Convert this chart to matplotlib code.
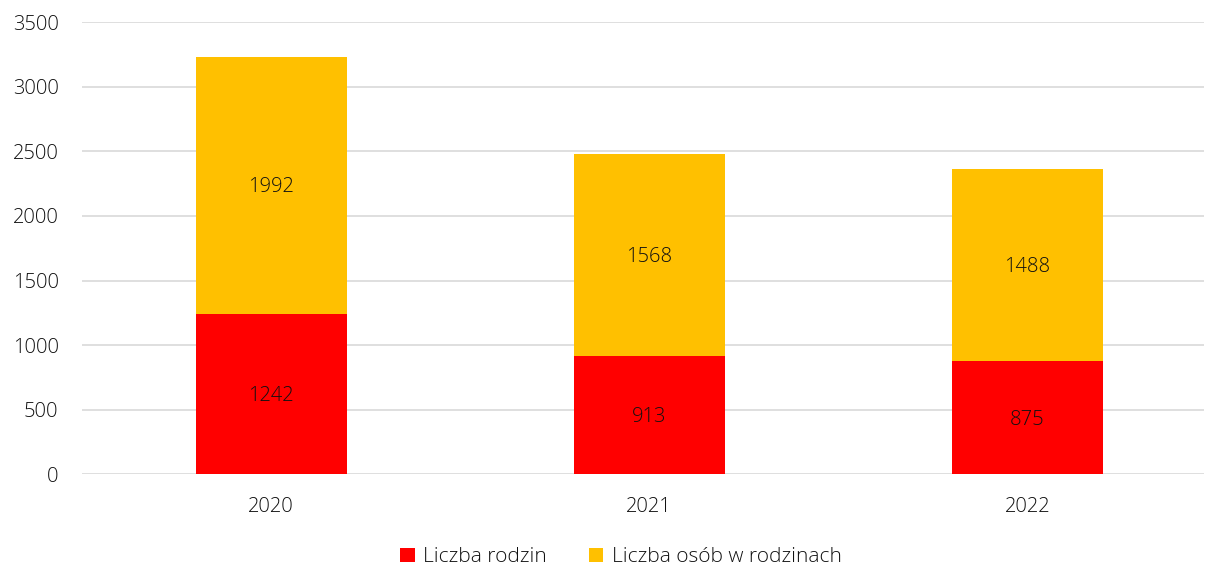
import matplotlib.pyplot as plt
import numpy as np

# dane
lata = ['2020', '2021', '2022']
liczba_rodzin = [1242, 913, 875]
liczba_osob = [1992, 1568, 1488]

plt.rcParams['font.family'] = ['Open Sans', 'DejaVu Sans']
plt.rcParams['font.weight'] = 'light'
kolor_tekstu = '#111111'

fig = plt.figure(figsize=(12.08, 5.68), dpi=100)
ax = fig.add_axes([0.068, 0.165, 0.929, 0.796])

x = np.arange(len(lata))
w = 0.40
ax.bar(x, liczba_rodzin, w, color='#FF0000', label='Liczba rodzin', zorder=3)
ax.bar(x, liczba_osob, w, bottom=liczba_rodzin, color='#FFC000',
       label='Liczba osób w rodzinach', zorder=3)

# etykiety wartości w środku segmentów
for xi, r, o in zip(x, liczba_rodzin, liczba_osob):
    for yc, v in ((r / 2, r), (r + o / 2, o)):
        ax.annotate(str(v), (xi, yc), xytext=(0, -5), textcoords='offset points',
                    ha='center', va='baseline', fontsize=14.5, color=kolor_tekstu, zorder=4)

ax.set_xlim(-0.5, 2.468)
ax.set_ylim(0, 3500)
ax.set_yticks(range(0, 3501, 500))
ax.set_xticks(x)
ax.set_xticklabels(lata)
ax.grid(axis='y', color='#d9d9d9', linewidth=1.2, zorder=0)
for s in ax.spines.values():
    s.set_visible(False)
ax.tick_params(length=0, labelsize=14.5, colors=kolor_tekstu)
ax.tick_params(axis='y', pad=17)
ax.tick_params(axis='x', pad=16)

ax.legend(loc='lower center', bbox_to_anchor=(0.48, -0.238), ncol=2, frameon=False,
          fontsize=15, handlelength=0.7, handleheight=0.7, columnspacing=2.0,
          handletextpad=0.4, labelcolor=kolor_tekstu, borderpad=0.2)

fig.savefig('out.png', dpi=100)
